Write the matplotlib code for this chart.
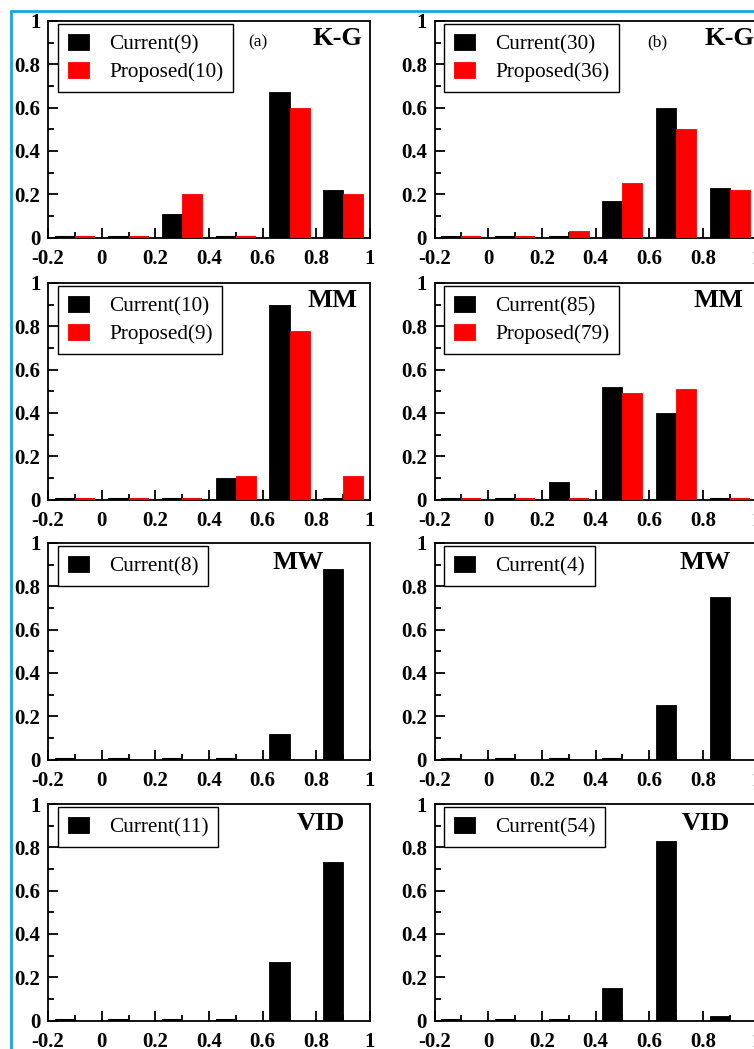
import matplotlib
matplotlib.use('Agg')
import matplotlib.pyplot as plt
import numpy as np
from matplotlib.lines import Line2D
from matplotlib.ticker import MultipleLocator, FixedLocator, FixedFormatter

plt.rcParams['font.family'] = ['Liberation Serif', 'DejaVu Serif']

# ---------------- data ----------------
bin_centers = [-0.1, 0.1, 0.3, 0.5, 0.7, 0.9]
x_ticks = [-0.2, 0.0, 0.2, 0.4, 0.6, 0.8, 1.0]
x_tick_labels = ['-0.2', '0', '0.2', '0.4', '0.6', '0.8', '1']
y_ticks = [0.0, 0.2, 0.4, 0.6, 0.8, 1.0]
y_tick_labels = ['0', '0.2', '0.4', '0.6', '0.8', '1']

kg_a_current = [0, 0, 0.11, 0, 0.67, 0.22]
kg_a_proposed = [0, 0, 0.20, 0, 0.60, 0.20]
kg_b_current = [0, 0, 0, 0.17, 0.60, 0.23]
kg_b_proposed = [0, 0, 0.03, 0.25, 0.50, 0.22]
mm_a_current = [0, 0, 0, 0.10, 0.90, 0]
mm_a_proposed = [0, 0, 0, 0.11, 0.78, 0.11]
mm_b_current = [0, 0, 0.08, 0.52, 0.40, 0]
mm_b_proposed = [0, 0, 0, 0.49, 0.51, 0]
mw_a_current = [0, 0, 0, 0, 0.12, 0.88]
mw_b_current = [0, 0, 0, 0, 0.25, 0.75]
vid_a_current = [0, 0, 0, 0, 0.27, 0.73]
vid_b_current = [0, 0, 0, 0.15, 0.83, 0.02]

legend_labels = {
    'kg_a': ['Current(9)', 'Proposed(10)'],
    'kg_b': ['Current(30)', 'Proposed(36)'],
    'mm_a': ['Current(10)', 'Proposed(9)'],
    'mm_b': ['Current(85)', 'Proposed(79)'],
    'mw_a': ['Current(8)'],
    'mw_b': ['Current(4)'],
    'vid_a': ['Current(11)'],
    'vid_b': ['Current(54)'],
}

# (row, col, key, current, proposed, method name, name pos, sublabel, sublabel pos)
panels = [
    (0, 0, 'kg_a', kg_a_current, kg_a_proposed, 'K-G', (0.820, 0.889), '(a)', (0.652, 0.903)),
    (0, 1, 'kg_b', kg_b_current, kg_b_proposed, 'K-G', (0.840, 0.889), '(b)', (0.693, 0.903)),
    (1, 0, 'mm_a', mm_a_current, mm_a_proposed, 'MM', (0.807, 0.891), None, None),
    (1, 1, 'mm_b', mm_b_current, mm_b_proposed, 'MM', (0.803, 0.891), None, None),
    (2, 0, 'mw_a', mw_a_current, None, 'MW', (0.696, 0.880), None, None),
    (2, 1, 'mw_b', mw_b_current, None, 'MW', (0.762, 0.880), None, None),
    (3, 0, 'vid_a', vid_a_current, None, 'VID', (0.773, 0.880), None, None),
    (3, 1, 'vid_b', vid_b_current, None, 'VID', (0.769, 0.880), None, None),
]

# ---------------- layout ----------------
W, H = 754, 1049
fig = plt.figure(figsize=(W / 100, H / 100), dpi=100)

col_left_px = [48, 434.5]
row_top_px = [21, 283, 543, 804]
ax_w_px, ax_h_px = 322, 216.5

bar_w = 0.075
centers = np.array(bin_centers)


def draw_series(ax, x_left, values, color):
    vals = np.asarray(values, dtype=float)
    bars = ax.bar(x_left, vals, width=bar_w, align='edge', color=color,
                  edgecolor=color, linewidth=0.6, zorder=3)
    # empty bins are drawn as a thin outline on the baseline
    zero = vals == 0
    ax.hlines(vals[zero] + 0.004, x_left[zero], x_left[zero] + bar_w,
              colors=color, linewidth=1.5, zorder=3)
    return bars


for row, col, key, cur, prop, name, name_pos, sub, sub_pos in panels:
    l = col_left_px[col] / W
    b = 1 - (row_top_px[row] + ax_h_px) / H
    ax = fig.add_axes([l, b, ax_w_px / W, ax_h_px / H])

    handles = [draw_series(ax, centers - bar_w, cur, 'black')]
    if prop is not None:
        handles.append(draw_series(ax, centers, prop, '#ff0000'))

    ax.set_xlim(-0.2, 1.0)
    ax.set_ylim(0, 1.0)
    ax.xaxis.set_major_locator(FixedLocator(x_ticks))
    ax.xaxis.set_major_formatter(FixedFormatter(x_tick_labels))
    ax.yaxis.set_major_locator(FixedLocator(y_ticks))
    ax.yaxis.set_major_formatter(FixedFormatter(y_tick_labels))
    ax.xaxis.set_minor_locator(MultipleLocator(0.1))
    ax.yaxis.set_minor_locator(MultipleLocator(0.1))
    ax.tick_params(which='both', direction='in', top=False, right=False, width=1.3)
    ax.tick_params(which='major', length=7.5, labelsize=15)
    ax.tick_params(axis='x', which='major', pad=8.5)
    ax.tick_params(axis='y', which='major', pad=5.5)
    ax.tick_params(which='minor', length=4)
    for lab in ax.get_xticklabels() + ax.get_yticklabels():
        lab.set_fontweight('bold')
    for sp in ax.spines.values():
        sp.set_linewidth(1.3)

    leg = ax.legend(handles, legend_labels[key], loc='upper left',
                    bbox_to_anchor=(0.031, 0.986), borderaxespad=0,
                    fontsize=15.3, frameon=True, fancybox=False, shadow=False,
                    framealpha=1, edgecolor='black', handlelength=1.0,
                    handleheight=0.8, handletextpad=0.95, borderpad=0.45,
                    labelspacing=0.36)
    leg.get_frame().set_linewidth(1.0)
    leg.set_zorder(5)

    ax.text(name_pos[0], name_pos[1], name, transform=ax.transAxes,
            fontsize=19, fontweight='bold', ha='left', va='baseline', zorder=6)
    if sub is not None:
        ax.text(sub_pos[0], sub_pos[1], sub, transform=ax.transAxes,
                fontsize=12.5, ha='center', va='center', zorder=6)

# blue border (left and top)
blue = '#1ba3e3'
fig.add_artist(Line2D([10.5 / W, 10.5 / W], [0, 1 - 10 / H], transform=fig.transFigure,
                      color=blue, linewidth=2.0, solid_capstyle='butt'))
fig.add_artist(Line2D([10 / W, 1], [1 - 10.5 / H, 1 - 10.5 / H], transform=fig.transFigure,
                      color=blue, linewidth=2.0, solid_capstyle='butt'))

fig.savefig('out.png', dpi=100)
